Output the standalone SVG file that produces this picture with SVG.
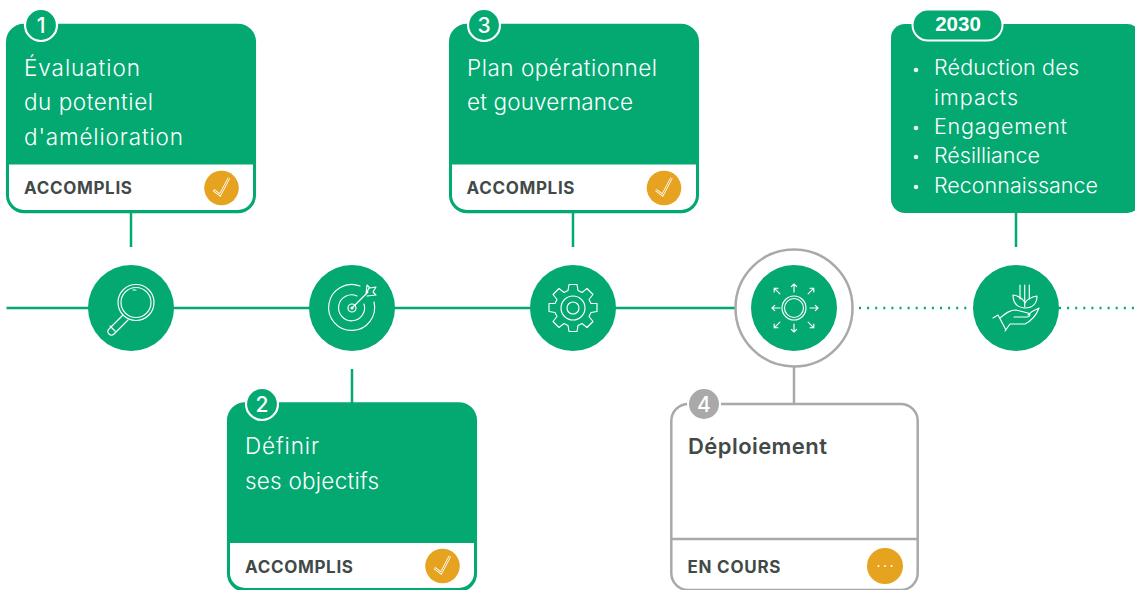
<svg xmlns="http://www.w3.org/2000/svg" width="1135" height="590" viewBox="0 0 1135 590">
<style>
text{font-family:"Inter","Open Sans",sans-serif}
.t{font-size:22.500px;font-weight:300;fill:#fff}
.l{font-size:21.500px;font-weight:300;fill:#fff}
.s{font-size:17px;font-weight:700;fill:#424a48}
.n{font-size:21px;fill:#fff;text-anchor:middle;font-weight:500}
.g{fill:#03a971}
.card{fill:#03a971;stroke:#03a971;stroke-width:2.5}
.foot{fill:#fff}
.i{fill:none;stroke:#fff;stroke-width:1.150;stroke-linecap:round;stroke-linejoin:round}
.o{fill:#e6a31f}
.c{stroke:#03a971;stroke-width:2.5;fill:none}
</style>
<defs>
<g id="check"><circle class="o" r="17.300"/><path d="M-8 2L-1.500 7L7.500-10" fill="none" stroke="#fff" stroke-width="2.600"/><path d="M-8 2L-1.500 7L7.500-10" fill="none" stroke="#e6a31f" stroke-width="1"/></g>
<path id="ar" class="i" d="M0-6V-14M-2.700-11.300L0-14L2.700-11.300"/>
</defs>
<g id="connectors">
<path class="c" d="M6.500 308H735"/>
<path class="c" d="M859 308H972M1059 308H1135" stroke-dasharray="2 6.100"/>
<path class="c" d="M131 212V247M352 369V403M573 212V247M1016 212V247"/>
<path d="M794 366V404" stroke="#a9a9a9" stroke-width="2.500" fill="none"/>
</g>
<g id="card1">
<rect class="card" x="7.200" y="25" width="247.600" height="187" rx="17"/>
<path class="foot" d="M9 164.500H253V195a15 15 0 0 1-15 15H24a15 15 0 0 1-15-15Z"/>
<circle class="g" cx="41" cy="25" r="16" stroke="#fff" stroke-width="2.200"/>
<text class="n" x="41" y="33">1</text>
<text class="t" x="24" y="76" textLength="116">Évaluation</text>
<text class="t" x="24" y="110" textLength="129">du potentiel</text>
<text class="t" x="24" y="145" textLength="159">d'amélioration</text>
<text class="s" x="24" y="194" textLength="108">ACCOMPLIS</text>
<use href="#check" x="221.500" y="188"/>
</g>
<g id="card3">
<rect class="card" x="450.200" y="25" width="247.600" height="187" rx="17"/>
<path class="foot" d="M452 164.500H696V195a15 15 0 0 1-15 15H467a15 15 0 0 1-15-15Z"/>
<circle class="g" cx="484" cy="25" r="16" stroke="#fff" stroke-width="2.200"/>
<text class="n" x="484" y="33">3</text>
<text class="t" x="467" y="76" textLength="190">Plan opérationnel</text>
<text class="t" x="467" y="110" textLength="166">et gouvernance</text>
<text class="s" x="466.500" y="194" textLength="108">ACCOMPLIS</text>
<use href="#check" x="664" y="188"/>
</g>
<g id="card2">
<rect class="card" x="228.200" y="403.500" width="247.600" height="187" rx="17"/>
<path class="foot" d="M230 543H474V573a15 15 0 0 1-15 15H245a15 15 0 0 1-15-15Z"/>
<circle class="g" cx="262" cy="404" r="16" stroke="#fff" stroke-width="2.200"/>
<text class="n" x="262" y="412">2</text>
<text class="t" x="245" y="454" textLength="74">Définir</text>
<text class="t" x="245" y="489" textLength="134">ses objectifs</text>
<text class="s" x="245" y="573" textLength="108">ACCOMPLIS</text>
<use href="#check" x="442.500" y="566"/>
</g>
<g id="card4">
<rect x="671.300" y="404" width="246.400" height="186" rx="17" fill="#fff" stroke="#a9a9a9" stroke-width="2.500"/>
<path d="M671 539H918" stroke="#a9a9a9" stroke-width="2.500"/>
<circle cx="704" cy="404" r="16" fill="#a9a9a9" stroke="#fff" stroke-width="2"/>
<text class="n" x="704" y="412">4</text>
<text x="688" y="454" textLength="139" style="font-size:22px;font-weight:600;fill:#424a48">Déploiement</text>
<text class="s" x="687.500" y="573" textLength="93">EN COURS</text>
<circle class="o" cx="885" cy="566" r="18"/>
<g fill="#fff"><circle cx="878.500" cy="566" r="1"/><circle cx="885" cy="566" r="1"/><circle cx="891.500" cy="566" r="1"/></g>
</g>
<g id="card2030">
<rect class="g" x="891" y="24" width="250" height="189" rx="14"/>
<rect x="912.500" y="9.500" width="90" height="31" rx="15.500" fill="#03a971" stroke="#fff" stroke-width="2"/>
<text x="958" y="31" style="font-family:'Liberation Sans',sans-serif;font-size:20.500px;font-weight:700;fill:#fff;text-anchor:middle">2030</text>
<g fill="#e4f5ef"><circle cx="916" cy="70" r="2.300"/><circle cx="916" cy="128" r="2.300"/><circle cx="916" cy="157" r="2.300"/><circle cx="916" cy="187" r="2.300"/></g>
<text class="l" x="934" y="75" textLength="145">Réduction des</text>
<text class="l" x="934" y="105" textLength="84">impacts</text>
<text class="l" x="934" y="134" textLength="133">Engagement</text>
<text class="l" x="934" y="163" textLength="106">Résilliance</text>
<text class="l" x="934" y="193" textLength="164">Reconnaissance</text>
</g>
<g id="step-search">
<circle class="g" cx="131" cy="308" r="43"/>
<g class="i"><circle cx="136" cy="302.500" r="18"/><circle cx="136" cy="302.500" r="15"/><path d="M123 315L109 329a3.500 3.500 0 0 0 5 5L128 320M110 326l5 5M133 290h3"/></g>
</g>
<g id="step-target">
<circle class="g" cx="352" cy="308" r="43"/>
<g class="i"><path d="M360 286A23 23 0 1 0 374 302"/><path d="M357 296A13 13 0 1 0 364 304"/><circle cx="352" cy="308" r="4"/><circle cx="352" cy="308" r="1" fill="#fff"/><path d="M352 308L368 292M366 294l1-9 3 3 6-1-3 5 3 3-9 1M369 288l-3 6"/></g>
</g>
<g id="step-gear">
<circle class="g" cx="573" cy="308" r="43"/>
<g class="i"><circle cx="573" cy="308" r="6"/><circle cx="573" cy="308" r="12"/><path d="M569 284.500h8l1 6 4 2 5-4 6 6-4 5 2 4 6 0v8l-6 1-2 4 4 5-6 6-5-4-4 2-1 6h-8l-1-6-4-2-5 4-6-6 4-5-2-4-6-1v-8l6 0 2-4-4-5 6-6 5 4 4-2Z"/></g>
</g>
<g id="step-deploy">
<circle cx="794" cy="308" r="58.500" fill="#fff" stroke="#a9a9a9" stroke-width="2.500"/>
<circle class="g" cx="794" cy="308" r="43"/>
<g transform="translate(794 308)"><circle class="i" r="12"/><circle class="i" r="9.500"/>
<use href="#ar" y="-10"/><use href="#ar" y="-14" transform="rotate(45)"/><use href="#ar" y="-10" transform="rotate(90)"/><use href="#ar" y="-14" transform="rotate(135)"/><use href="#ar" y="-10" transform="rotate(180)"/><use href="#ar" y="-14" transform="rotate(225)"/><use href="#ar" y="-8" transform="rotate(270)"/><use href="#ar" y="-14" transform="rotate(315)"/></g>
</g>
<g id="step-plant">
<circle class="g" cx="1016" cy="308" r="43"/>
<g class="i"><path d="M1020 285V299M1024.700 285V307M1029.300 285V299"/><path d="M1024 308C1016 307 1013 302 1013 295C1019 296 1023 299 1025 303C1027 299 1031 297 1037 296C1037 303 1033 308 1025 308"/><path d="M993 318L998 315L1006 330M1005 331L1010 324H1025C1031 321 1036 316 1039 308C1034 310 1031 312 1028 315M1000 318C1006 313 1010 310 1016 310L1028 313C1031 314 1030 317 1027 317H1014"/></g>
</g>
</svg>
